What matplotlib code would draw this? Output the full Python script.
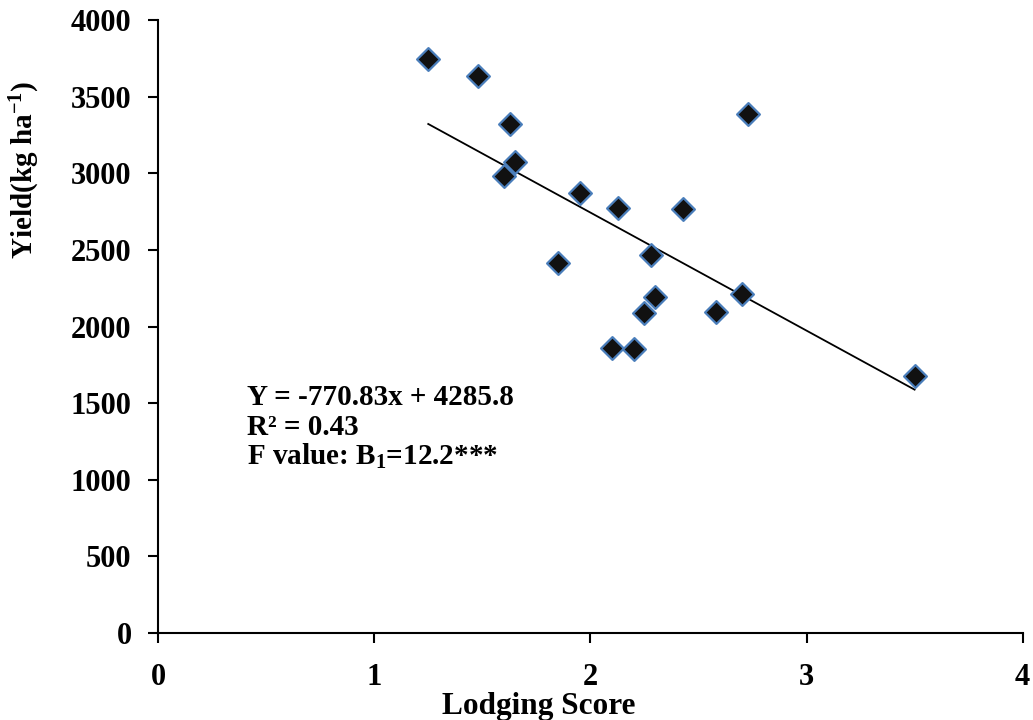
import matplotlib
matplotlib.use("Agg")
import matplotlib.pyplot as plt
import numpy as np

# datos
lodging = [1.25, 1.48, 1.63, 1.65, 1.60, 1.95, 2.13, 2.43, 2.73, 1.85,
           2.28, 2.30, 2.25, 2.58, 2.70, 2.10, 2.20, 3.50]
yield_kg = [3745, 3635, 3320, 3073, 2985, 2871, 2773, 2770, 3385, 2416,
            2470, 2190, 2086, 2097, 2212, 1858, 1851, 1677]
slope = -770.83
intercept = 4285.8
x_ticks = [0, 1, 2, 3, 4]
y_ticks = [0, 500, 1000, 1500, 2000, 2500, 3000, 3500, 4000]

plt.rcParams['font.family'] = ['Liberation Serif', 'DejaVu Serif']
plt.rcParams['font.weight'] = 'bold'
plt.rcParams['mathtext.fontset'] = 'custom'
plt.rcParams['mathtext.rm'] = 'Liberation Serif:bold'
plt.rcParams['mathtext.bf'] = 'Liberation Serif:bold'
plt.rcParams['mathtext.it'] = 'Liberation Serif:bold'

fig = plt.figure(figsize=(10.33, 7.2), dpi=100)
ax = fig.add_axes([0.153, 0.121, 0.837, 0.851])

ax.scatter(lodging, yield_kg, marker='D', s=135, color='#111111',
           edgecolors='#4a7ebb', linewidths=1.6, zorder=3)

# línea de tendencia
xl = np.array([min(lodging), max(lodging)])
ax.plot(xl, slope * xl + intercept, color='black', linewidth=1.3, zorder=2)

ax.set_xlim(0, 4)
ax.set_ylim(0, 4000)
ax.set_xticks(x_ticks)
ax.set_yticks(y_ticks)
ax.tick_params(direction='out', length=7, width=1.5, labelsize=22)
ax.tick_params(axis='x', pad=15)
ax.tick_params(axis='y', pad=12)
for lab in ax.get_xticklabels() + ax.get_yticklabels():
    lab.set_fontweight('bold')

ax.spines['top'].set_visible(False)
ax.spines['right'].set_visible(False)
ax.spines['left'].set_linewidth(1.5)
ax.spines['bottom'].set_linewidth(1.5)

ax.set_xlabel('Lodging Score', fontsize=22.5, fontweight='bold')
ax.xaxis.set_label_coords(0.44, -0.097)
ax.set_ylabel(r'Yield(kg ha$^{-1}$)', fontsize=21, fontweight='bold')
ax.yaxis.set_label_coords(-0.134, 0.755)

ax.text(0.41, 1488, 'Y = -770.83x + 4285.8', fontsize=21, fontweight='bold', va='baseline')
ax.text(0.41, 1292, 'R² = 0.43', fontsize=21, fontweight='bold', va='baseline')
ax.text(0.41, 1096, r'F value: B$_{1}$=12.2***', fontsize=21, fontweight='bold', va='baseline')

fig.savefig('out.png', dpi=100)
